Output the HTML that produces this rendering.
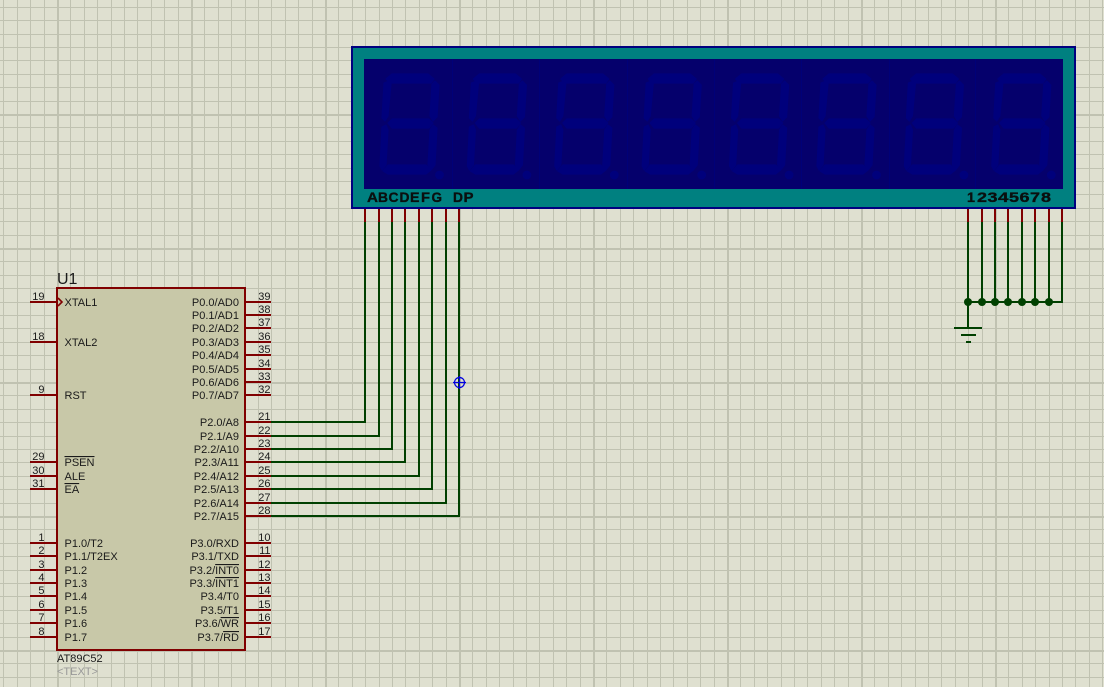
<!DOCTYPE html>
<html><head><meta charset="utf-8"><style>
html,body{margin:0;padding:0;background:#dfe0d0}
svg{display:block}
text{font-family:"Liberation Sans",sans-serif;font-size:11px;fill:#1a1a1a}
.lcd text{font-weight:bold;font-size:14px;fill:#0a0f0f;stroke:#0a0f0f;stroke-width:.35px}
.o{text-decoration:overline}
</style></head><body>
<svg xmlns="http://www.w3.org/2000/svg" width="1104" height="687" viewBox="0 0 1104 687">
<defs>
<pattern id="g" x="57" y="114" width="134" height="134" patternUnits="userSpaceOnUse">
<g fill="#c0c2b1" shape-rendering="crispEdges">
<rect x="0" y="0" width="2" height="134"/><rect x="13" y="0" width="1" height="134"/><rect x="27" y="0" width="1" height="134"/><rect x="40" y="0" width="1" height="134"/><rect x="54" y="0" width="1" height="134"/><rect x="67" y="0" width="1" height="134"/><rect x="80" y="0" width="1" height="134"/><rect x="94" y="0" width="1" height="134"/><rect x="107" y="0" width="1" height="134"/><rect x="121" y="0" width="1" height="134"/>
<rect x="0" y="0" width="134" height="2"/><rect x="0" y="13" width="134" height="1"/><rect x="0" y="27" width="134" height="1"/><rect x="0" y="40" width="134" height="1"/><rect x="0" y="54" width="134" height="1"/><rect x="0" y="67" width="134" height="1"/><rect x="0" y="80" width="134" height="1"/><rect x="0" y="94" width="134" height="1"/><rect x="0" y="107" width="134" height="1"/><rect x="0" y="121" width="134" height="1"/>
</g>
</pattern>
<g id="d" fill="#00007c" stroke="#00007c" stroke-width="1.2" stroke-linejoin="round">
<polygon points="386,79 392,74 428,74 434,79 431,83 390,83"/>
<polygon points="384,83 389,81 391,84 388,116 385,121 382,118"/>
<polygon points="435,81 439,85 437,117 433,121 430,116 432,84"/>
<polygon points="388,123 392,119 429,119 433,123 429,128 392,128"/>
<polygon points="382,127 386,125 388,130 386,165 382,170 380,166"/>
<polygon points="433,125 437,128 435,165 431,170 428,165 430,130"/>
<polygon points="383,171 388,165 426,165 431,170 426,174 388,174"/>
<circle cx="439.5" cy="175" r="3.8"/>
</g>
</defs>
<rect width="1104" height="687" fill="#dfe0d0"/>
<rect width="1104" height="687" fill="url(#g)"/>

<!-- LCD -->
<rect x="352" y="47" width="723" height="161" fill="#008080" stroke="#000080" stroke-width="2"/>
<rect x="364" y="59" width="699" height="130" fill="#05006c"/>
<g fill="#000078">
<rect x="452" y="59" width="1" height="130"/><rect x="539" y="59" width="1" height="130"/><rect x="627" y="59" width="1" height="130"/><rect x="714" y="59" width="1" height="130"/><rect x="801" y="59" width="1" height="130"/><rect x="889" y="59" width="1" height="130"/><rect x="975" y="59" width="1" height="130"/>
</g>
<use href="#d"/>
<use href="#d" x="87.4"/>
<use href="#d" x="174.8"/>
<use href="#d" x="262.2"/>
<use href="#d" x="349.6"/>
<use href="#d" x="437"/>
<use href="#d" x="524.4"/>
<use href="#d" x="611.8"/>
<g class="lcd">
<text x="367" y="202" textLength="11" lengthAdjust="spacingAndGlyphs">A</text>
<text x="378" y="202" textLength="10" lengthAdjust="spacingAndGlyphs">B</text>
<text x="388.5" y="202" textLength="10" lengthAdjust="spacingAndGlyphs">C</text>
<text x="399.5" y="202" textLength="10" lengthAdjust="spacingAndGlyphs">D</text>
<text x="410" y="202" textLength="9.5" lengthAdjust="spacingAndGlyphs">E</text>
<text x="421" y="202" textLength="9" lengthAdjust="spacingAndGlyphs">F</text>
<text x="431.5" y="202" textLength="10.5" lengthAdjust="spacingAndGlyphs">G</text>
<text x="453" y="202" textLength="10" lengthAdjust="spacingAndGlyphs">D</text>
<text x="463.5" y="202" textLength="10" lengthAdjust="spacingAndGlyphs">P</text>
<text x="967" y="202" textLength="8" lengthAdjust="spacingAndGlyphs">1</text>
<text x="977" y="202" textLength="10" lengthAdjust="spacingAndGlyphs">2</text>
<text x="987.5" y="202" textLength="10" lengthAdjust="spacingAndGlyphs">3</text>
<text x="998" y="202" textLength="10.5" lengthAdjust="spacingAndGlyphs">4</text>
<text x="1009" y="202" textLength="10" lengthAdjust="spacingAndGlyphs">5</text>
<text x="1019.5" y="202" textLength="10" lengthAdjust="spacingAndGlyphs">6</text>
<text x="1030" y="202" textLength="10" lengthAdjust="spacingAndGlyphs">7</text>
<text x="1041" y="202" textLength="10" lengthAdjust="spacingAndGlyphs">8</text>
</g>

<!-- Wires -->
<g fill="none" stroke="#004000" stroke-width="2" shape-rendering="crispEdges">
<path d="M271 422H365V222M271 436H379V222M271 449H392V222M271 462H405V222M271 476H419V222M271 489H432V222M271 503H446V222M271 516H459V222"/>
<path d="M968 222V328M982 222V302M995 222V302M1008 222V302M1022 222V302M1035 222V302M1049 222V302M1062 222V302H968"/>
<path d="M954 328H982M961 335H976M966 342H971"/>
</g>
<g fill="#004000">
<circle cx="968" cy="302" r="4"/><circle cx="982" cy="302" r="4"/><circle cx="995" cy="302" r="4"/><circle cx="1008" cy="302" r="4"/><circle cx="1022" cy="302" r="4"/><circle cx="1035" cy="302" r="4"/><circle cx="1049" cy="302" r="4"/>
</g>

<!-- LCD pins -->
<path fill="none" stroke="#800000" stroke-width="2" shape-rendering="crispEdges" d="M365 209V222M379 209V222M392 209V222M405 209V222M419 209V222M432 209V222M446 209V222M459 209V222M968 209V222M982 209V222M995 209V222M1008 209V222M1022 209V222M1035 209V222M1049 209V222M1062 209V222"/>

<!-- IC -->
<rect x="57" y="288" width="188" height="362" fill="#c8c8a8" stroke="#800000" stroke-width="2" shape-rendering="crispEdges"/>
<path fill="none" stroke="#800000" stroke-width="2" shape-rendering="crispEdges" d="M30 302H57M30 342H57M30 395H57M30 462H57M30 476H57M30 489H57M30 543H57M30 556H57M30 570H57M30 583H57M30 596H57M30 610H57M30 623H57M30 637H57M245 302H271M245 315H271M245 328H271M245 342H271M245 355H271M245 369H271M245 382H271M245 395H271M245 422H271M245 436H271M245 449H271M245 462H271M245 476H271M245 489H271M245 503H271M245 516H271M245 543H271M245 556H271M245 570H271M245 583H271M245 596H271M245 610H271M245 623H271M245 637H271"/>
<path fill="none" stroke="#800000" stroke-width="1.6" d="M58 298L62 302L58 306"/>

<text x="57" y="284" style="font-size:16px">U1</text>
<text x="57" y="662">AT89C52</text>
<text x="57" y="675" style="fill:#999">&lt;TEXT&gt;</text>

<!-- left labels -->
<text x="64.5" y="306">XTAL1</text>
<text x="64.5" y="346">XTAL2</text>
<text x="64.5" y="399">RST</text>
<text x="64.5" y="466"><tspan class="o">PSEN</tspan></text>
<text x="64.5" y="480">ALE</text>
<text x="64.5" y="493"><tspan class="o">EA</tspan></text>
<text x="64.5" y="547">P1.0/T2</text>
<text x="64.5" y="560">P1.1/T2EX</text>
<text x="64.5" y="574">P1.2</text>
<text x="64.5" y="587">P1.3</text>
<text x="64.5" y="600">P1.4</text>
<text x="64.5" y="614">P1.5</text>
<text x="64.5" y="627">P1.6</text>
<text x="64.5" y="641">P1.7</text>

<!-- right labels -->
<g text-anchor="end">
<text x="239" y="306">P0.0/AD0</text>
<text x="239" y="319">P0.1/AD1</text>
<text x="239" y="332">P0.2/AD2</text>
<text x="239" y="346">P0.3/AD3</text>
<text x="239" y="359">P0.4/AD4</text>
<text x="239" y="373">P0.5/AD5</text>
<text x="239" y="386">P0.6/AD6</text>
<text x="239" y="399">P0.7/AD7</text>
<text x="239" y="426">P2.0/A8</text>
<text x="239" y="440">P2.1/A9</text>
<text x="239" y="453">P2.2/A10</text>
<text x="239" y="466">P2.3/A11</text>
<text x="239" y="480">P2.4/A12</text>
<text x="239" y="493">P2.5/A13</text>
<text x="239" y="507">P2.6/A14</text>
<text x="239" y="520">P2.7/A15</text>
<text x="239" y="547">P3.0/RXD</text>
<text x="239" y="560">P3.1/TXD</text>
<text x="239" y="574">P3.2/<tspan class="o">INT0</tspan></text>
<text x="239" y="587">P3.3/<tspan class="o">INT1</tspan></text>
<text x="239" y="600">P3.4/T0</text>
<text x="239" y="614">P3.5/T1</text>
<text x="239" y="627">P3.6/<tspan class="o">WR</tspan></text>
<text x="239" y="641">P3.7/<tspan class="o">RD</tspan></text>

<text x="44.5" y="300">19</text>
<text x="44.5" y="340">18</text>
<text x="44.5" y="393">9</text>
<text x="44.5" y="460">29</text>
<text x="44.5" y="474">30</text>
<text x="44.5" y="487">31</text>
<text x="44.5" y="541">1</text>
<text x="44.5" y="554">2</text>
<text x="44.5" y="568">3</text>
<text x="44.5" y="581">4</text>
<text x="44.5" y="594">5</text>
<text x="44.5" y="608">6</text>
<text x="44.5" y="621">7</text>
<text x="44.5" y="635">8</text>

<text x="270.5" y="300">39</text>
<text x="270.5" y="313">38</text>
<text x="270.5" y="326">37</text>
<text x="270.5" y="340">36</text>
<text x="270.5" y="353">35</text>
<text x="270.5" y="367">34</text>
<text x="270.5" y="380">33</text>
<text x="270.5" y="393">32</text>
<text x="270.5" y="420">21</text>
<text x="270.5" y="434">22</text>
<text x="270.5" y="447">23</text>
<text x="270.5" y="460">24</text>
<text x="270.5" y="474">25</text>
<text x="270.5" y="487">26</text>
<text x="270.5" y="501">27</text>
<text x="270.5" y="514">28</text>
<text x="270.5" y="541">10</text>
<text x="270.5" y="554">11</text>
<text x="270.5" y="568">12</text>
<text x="270.5" y="581">13</text>
<text x="270.5" y="594">14</text>
<text x="270.5" y="608">15</text>
<text x="270.5" y="621">16</text>
<text x="270.5" y="635">17</text>
</g>

<!-- cursor -->
<g fill="none" stroke="#0000e0" stroke-width="1.2">
<circle cx="459.5" cy="382.5" r="5"/>
<path d="M453 382.5H466M459.5 376V389"/>
</g>
</svg>
</body></html>
